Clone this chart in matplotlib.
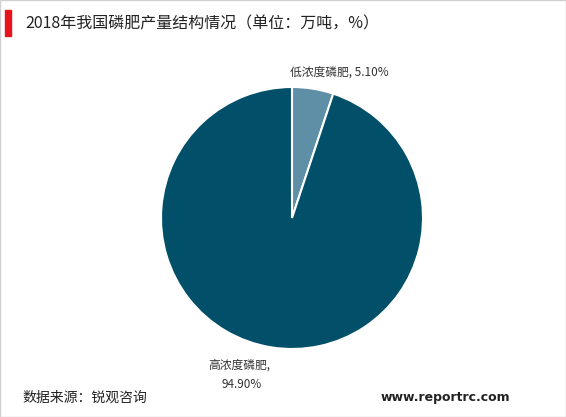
import matplotlib
matplotlib.use("Agg")
import matplotlib.pyplot as plt
from matplotlib.patches import Rectangle

plt.rcParams['font.family'] = ['Noto Sans CJK SC', 'DejaVu Sans']

labels = ["低浓度磷肥", "高浓度磷肥"]
values = [5.10, 94.90]
colors = ["#5e8fa6", "#024f69"]

W, H = 566, 417
fig = plt.figure(figsize=(W/100, H/100), dpi=100)
cx, cy, r = 292, 218, 131
ax = fig.add_axes([(cx-r)/W, 1-(cy+r)/H, 2*r/W, 2*r/H])
ax.pie(values, colors=colors, startangle=90, counterclock=False,
       wedgeprops=dict(edgecolor="white", linewidth=1.5))
ax.set_xlim(-1, 1)
ax.set_ylim(-1, 1)
ax.set_aspect('equal')

fig.patches.append(Rectangle((0, 0), 1, 1, transform=fig.transFigure, fill=False,
                             edgecolor="#d0d0d0", linewidth=1))
fig.patches.append(Rectangle((5/W, 1-36/H), 6/W, 26/H, transform=fig.transFigure,
                             color="#e8141b"))
fig.text(25/W, 1-24/H, "2018年我国磷肥产量结构情况（单位：万吨，%）", fontsize=11.5,
         va="center", ha="left", color="#222222")
fig.text(290/W, 1-72/H, f"{labels[0]}, {values[0]:.2f}%", fontsize=8.5,
         va="center", ha="left", color="#333333")
fig.text(208/W, 1-365/H, f"{labels[1]},", fontsize=8.5, va="center", ha="left", color="#333333")
fig.text(221/W, 1-384/H, f"{values[1]:.2f}%", fontsize=8.5, va="center", ha="left", color="#333333")
fig.text(22/W, 1-398/H, "数据来源：锐观咨询", fontsize=10, va="center", ha="left", color="#222222")
fig.text(510/W, 1-397/H, "www.reportrc.com", fontsize=9, va="center", ha="right",
         color="#222222", fontweight="bold", family="DejaVu Sans")

fig.savefig("out.png", dpi=100)
